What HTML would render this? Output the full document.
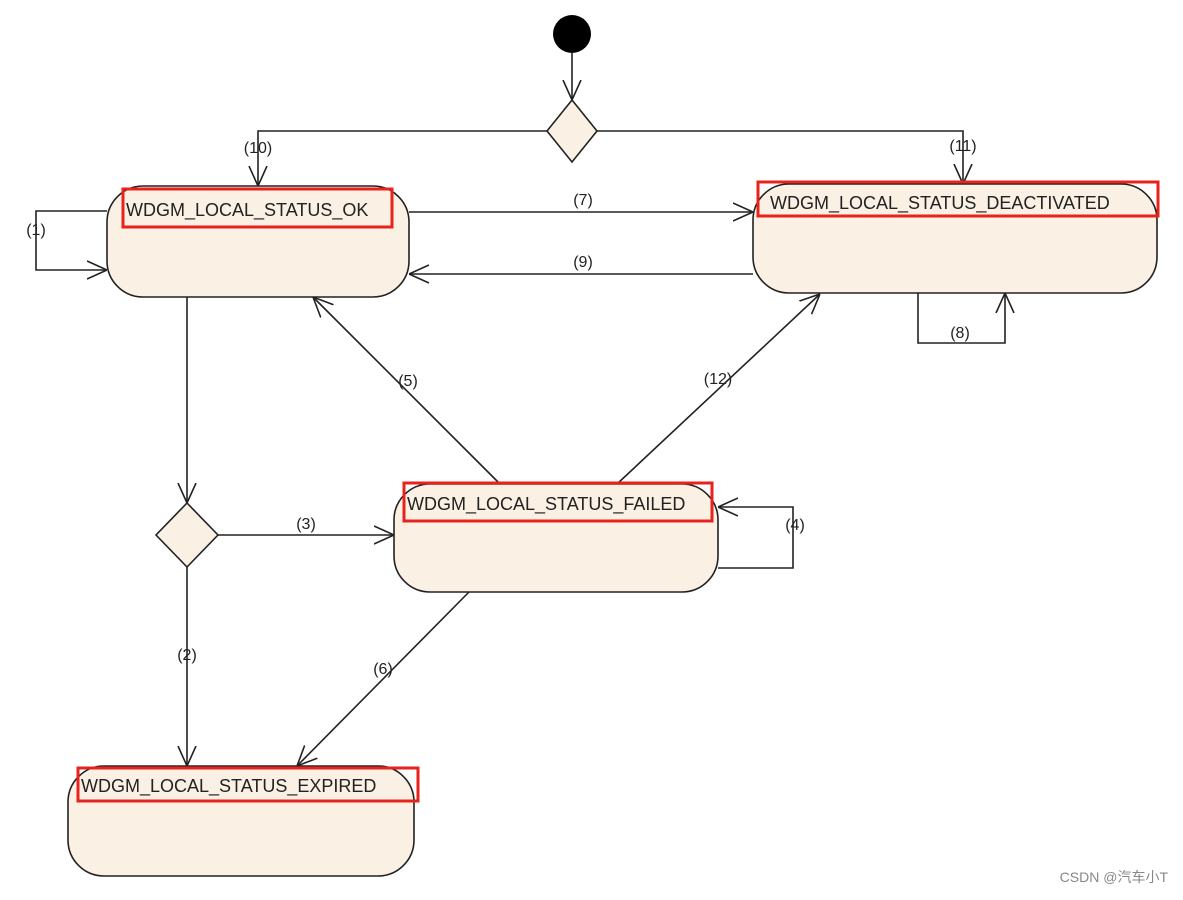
<!DOCTYPE html>
<html><head><meta charset="utf-8"><style>
body{margin:0;background:#fff;width:1183px;height:895px;overflow:hidden}
svg text{font-family:"Liberation Sans","Noto Sans CJK SC",sans-serif;fill:#222}
</style></head><body>
<svg width="1183" height="895" viewBox="0 0 1183 895">
<defs>
<marker id="a" viewBox="0 0 20 20" refX="20" refY="10" markerWidth="20" markerHeight="20" markerUnits="userSpaceOnUse" orient="auto">
<path d="M0,1 L20,10 L0,19" fill="none" stroke="#222" stroke-width="1.6"/>
</marker>
</defs>
<g fill="#faf0e3" stroke="#222" stroke-width="1.6">
<rect x="107" y="186" width="302" height="111" rx="36"/>
<rect x="753" y="184" width="404" height="109" rx="36"/>
<rect x="394" y="484" width="324" height="108" rx="36"/>
<rect x="68" y="766" width="346" height="110" rx="36"/>
<path d="M572,100 L597,131 L572,162 L547,131Z"/>
<path d="M187,503 L218,535 L187,567 L156,535Z"/>
</g>
<circle cx="572" cy="34" r="19" fill="#000"/>
<g fill="none" stroke="#222" stroke-width="1.6">
<line x1="572" y1="53" x2="572" y2="100" marker-end="url(#a)"/>
<polyline points="547,131 258,131 258,186" marker-end="url(#a)"/>
<polyline points="597,131 963,131 963,184" marker-end="url(#a)"/>
<line x1="409" y1="212" x2="753" y2="212" marker-end="url(#a)"/>
<line x1="753" y1="274" x2="409" y2="274" marker-end="url(#a)"/>
<polyline points="107,211 36,211 36,270 107,270" marker-end="url(#a)"/>
<line x1="187" y1="297" x2="187" y2="503" marker-end="url(#a)"/>
<line x1="218" y1="535" x2="394" y2="535" marker-end="url(#a)"/>
<line x1="187" y1="567" x2="187" y2="766" marker-end="url(#a)"/>
<line x1="500" y1="484" x2="313" y2="297" marker-end="url(#a)"/>
<line x1="617" y1="484" x2="820" y2="294" marker-end="url(#a)"/>
<polyline points="718,568 793,568 793,507 718,507" marker-end="url(#a)"/>
<line x1="469" y1="592" x2="297" y2="766" marker-end="url(#a)"/>
<polyline points="918,293 918,343 1005,343 1005,293" marker-end="url(#a)"/>
</g>
<g fill="none" stroke="#e8231c" stroke-width="3">
<rect x="123" y="189" width="269" height="38"/>
<rect x="758" y="182" width="400" height="34"/>
<rect x="404" y="483" width="308" height="38"/>
<rect x="78" y="768" width="340" height="33"/>
</g>
<g font-size="18">
<text x="126" y="216">WDGM_LOCAL_STATUS_OK</text>
<text x="770" y="209">WDGM_LOCAL_STATUS_DEACTIVATED</text>
<text x="407" y="510">WDGM_LOCAL_STATUS_FAILED</text>
<text x="81" y="792">WDGM_LOCAL_STATUS_EXPIRED</text>
</g>
<g font-size="16" text-anchor="middle">
<text x="258" y="153">(10)</text>
<text x="963" y="151">(11)</text>
<text x="583" y="205">(7)</text>
<text x="583" y="267">(9)</text>
<text x="36" y="235">(1)</text>
<text x="960" y="338">(8)</text>
<text x="408" y="386">(5)</text>
<text x="718" y="384">(12)</text>
<text x="306" y="529">(3)</text>
<text x="795" y="530">(4)</text>
<text x="187" y="660">(2)</text>
<text x="383" y="674">(6)</text>
</g>
<text x="1168" y="882" font-size="14" text-anchor="end" style="fill:#888">CSDN @汽车小T</text>
</svg>
</body></html>
